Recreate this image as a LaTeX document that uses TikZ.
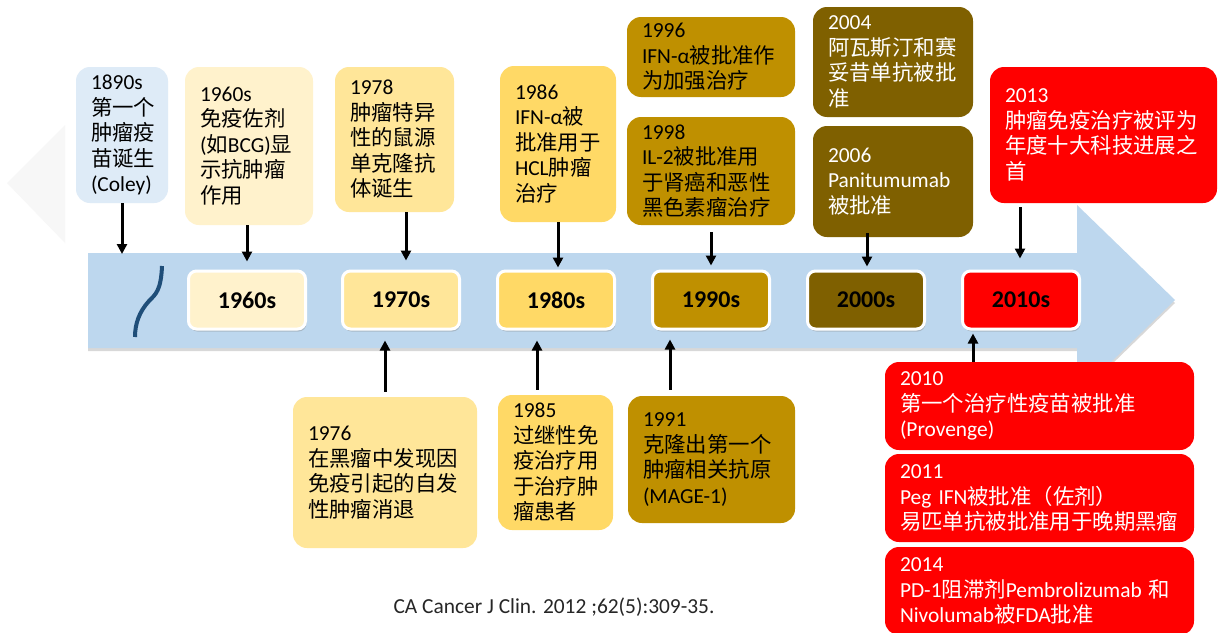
\documentclass[tikz,border=0pt]{standalone}
\usepackage{fontspec}
\setmainfont{Carlito}
\newfontfamily\cjkfont{Noto Sans CJK SC}
\newfontfamily\latinfont{Carlito}
\XeTeXinterchartokenstate=1
\newXeTeXintercharclass\cjkclass
\newcount\cjkcnt
\def\setcjkrange#1#2{\cjkcnt=#1\relax\loop\XeTeXcharclass\cjkcnt=\cjkclass\relax\ifnum\cjkcnt<#2\relax\advance\cjkcnt by 1\relax\repeat}
\setcjkrange{"3000}{"303F}
\setcjkrange{"4E00}{"9FFF}
\setcjkrange{"FF00}{"FFEF}
\XeTeXinterchartoks 0 \cjkclass = {\cjkfont}
\XeTeXinterchartoks 4095 \cjkclass = {\cjkfont}
\XeTeXinterchartoks \cjkclass 0 = {\latinfont}
\XeTeXinterchartoks \cjkclass 4095 = {\latinfont}
\usetikzlibrary{arrows.meta,shadows,calc}
\definecolor{band}{HTML}{BDD7EE}
\definecolor{breakc}{HTML}{1F4E79}
\definecolor{c1890}{HTML}{DEEBF7}
\definecolor{c60}{HTML}{FFF2CC}
\definecolor{c70}{HTML}{FFE699}
\definecolor{c80}{HTML}{FFD966}
\definecolor{c90}{HTML}{BF9000}
\definecolor{c00}{HTML}{7F6000}
\definecolor{c10}{HTML}{FF0000}
\begin{document}
\begin{tikzpicture}[x=1pt,y=-1pt,
  arr/.style={-{Triangle[length=10pt,width=10pt]}, line width=3pt, black},
  ev/.style={rounded corners=14pt, align=left, inner xsep=15pt, inner ysep=0pt,
    font=\fontsize{21.4pt}{25.5pt}\selectfont},
  dec/.style={draw=white, line width=3pt, rounded corners=8pt, minimum width=117pt,
    minimum height=58pt, inner sep=0pt, font=\fontsize{24pt}{28pt}\selectfont\bfseries,
    drop shadow={opacity=0.35, shadow xshift=1pt, shadow yshift=-2.5pt}},
]
\useasboundingbox (0,0) rectangle (1218,632);
\fill[white] (0,0) rectangle (1218,632);
% faint background diamond
\fill[black!3] (7,183) -- (65,125) -- (65,243) -- cycle;
% timeline band
\path[fill=band, drop shadow={opacity=0.3, shadow xshift=0pt, shadow yshift=-3pt}]
  (88,253) -- (1077,253) -- (1077,205) -- (1175,300) -- (1077,395) -- (1077,348) -- (88,348) -- cycle;
% break mark
\draw[breakc, line width=4pt] (162,266) .. controls (161,290) and (156,294) .. (149,301)
  .. controls (139,312) and (135,324) .. (135,337);
% decade boxes
\node[dec, fill=c60] (d1960) at (247,300) {1960s};
\node[dec, fill=c70] (d1970) at (401,300) {1970s};
\node[dec, fill=c80] (d1980) at (556,300) {1980s};
\node[dec, fill=c90] (d1990) at (711,300) {1990s};
\node[dec, fill=c00] (d2000) at (866,300) {2000s};
\node[dec, fill=c10] (d2010) at (1021,300) {2010s};
% top events
\node[ev, fill=c1890, minimum width=92pt, minimum height=136pt, text width=62pt] (e1890) at (122,135)
  {1890s\\第一个\\肿瘤疫\\苗诞生\\(Coley)};
\node[ev, fill=c60, minimum width=128pt, minimum height=158pt, text width=98pt] (e1960) at (249,146)
  {1960s\\免疫佐剂\\(如BCG)显\\示抗肿瘤\\作用};
\node[ev, fill=c70, minimum width=119pt, minimum height=145pt, text width=89pt] (e1978) at (394.5,139.5)
  {1978\\肿瘤特异\\性的鼠源\\单克隆抗\\体诞生};
\node[ev, fill=c80, minimum width=116pt, minimum height=156pt, text width=86pt] (e1986) at (558,144)
  {1986\\IFN-α被\\批准用于\\HCL肿瘤\\治疗};
\node[ev, fill=c90, minimum width=168pt, minimum height=80pt, text width=138pt] (e1996) at (711,57)
  {1996\\IFN-α被批准作\\为加强治疗};
\node[ev, fill=c90, minimum width=168pt, minimum height=108pt, text width=138pt] (e1998) at (711,171)
  {1998\\IL-2被批准用\\于肾癌和恶性\\黑色素瘤治疗};
\node[ev, fill=c00, text=white, minimum width=160pt, minimum height=110pt, text width=130pt] (e2004) at (893,62)
  {2004\\阿瓦斯汀和赛\\妥昔单抗被批\\准};
\node[ev, fill=c00, text=white, minimum width=160pt, minimum height=111pt, text width=130pt] (e2006) at (893,181.5)
  {2006\\Panitumumab\\被批准};
\node[ev, fill=c10, text=white, minimum width=227pt, minimum height=136pt, text width=197pt] (e2013) at (1103.5,135)
  {2013\\肿瘤免疫治疗被评为\\年度十大科技进展之\\首};
% bottom events
\node[ev, fill=c70, minimum width=184pt, minimum height=151pt, text width=154pt] (e1976) at (385,472.5)
  {1976\\在黑瘤中发现因\\免疫引起的自发\\性肿瘤消退};
\node[ev, fill=c80, minimum width=115pt, minimum height=135pt, text width=85pt] (e1985) at (555.5,462.5)
  {1985\\过继性免\\疫治疗用\\于治疗肿\\瘤患者};
\node[ev, fill=c90, minimum width=167pt, minimum height=127pt, text width=137pt] (e1991) at (711.5,459.5)
  {1991\\克隆出第一个\\肿瘤相关抗原\\(MAGE-1)};
\node[ev, fill=c10, text=white, minimum width=309pt, minimum height=88pt, text width=279pt] (e2010) at (1039.5,406)
  {2010\\第一个治疗性疫苗被批准\\(Provenge)};
\node[ev, fill=c10, text=white, minimum width=309pt, minimum height=88pt, text width=279pt] (e2011) at (1039.5,498)
  {2011\\Peg IFN被批准（佐剂）\\易匹单抗被批准用于晚期黑瘤};
\node[ev, fill=c10, text=white, minimum width=309pt, minimum height=88pt, text width=279pt] (e2014) at (1039.5,591)
  {2014\\PD-1阻滞剂Pembrolizumab 和\\Nivolumab被FDA批准};
% citation
\node[font=\fontsize{21.4pt}{25.5pt}\selectfont, text=black!85] (cite) at (554,607)
  {CA Cancer J Clin. 2012 ;62(5):309-35.};
% connectors
\coordinate (b1890) at (122,254);
\draw[arr] (e1890.south) -- (b1890);
\draw[arr, shorten >=8pt] (e1960.south -| d1960.north) -- (d1960.north);
\draw[arr, shorten >=9pt] ($(d1970.north |- e1978.south)+(5,0)$) -- ($(d1970.north)+(5,0)$);
\draw[arr, shorten >=2pt] ($(d1980.north |- e1986.south)+(2,0)$) -- ($(d1980.north)+(2,0)$);
\draw[arr, shorten <=7pt, shorten >=4pt] (e1998.south) -- (d1990.north);
\draw[arr, shorten >=3pt] ($(d2000.north |- e2006.south)+(1,-4)$) -- ($(d2000.north)+(1,0)$);
\draw[arr, shorten <=4pt, shorten >=11pt] ($(d2010.north |- e2013.south)+(-1,0)$) -- ($(d2010.north)+(-1,0)$);
\draw[arr, shorten <=5pt, shorten >=10pt] (e1976.north) -- (e1976.north |- d1970.south);
\draw[arr, shorten <=5pt, shorten >=10pt] ($(e1985.north)+(-18.5,0)$) -- ($(e1985.north |- d1980.south)+(-18.5,0)$);
\draw[arr, shorten <=6pt, shorten >=9pt] ($(e1991.north)+(-41.5,0)$) -- ($(e1991.north |- d1990.south)+(-41.5,0)$);
\draw[arr, shorten >=3pt] ($(e2010.north)+(-66.5,0)$) -- ($(e2010.north |- d2010.south)+(-66.5,0)$);
\end{tikzpicture}
\end{document}
